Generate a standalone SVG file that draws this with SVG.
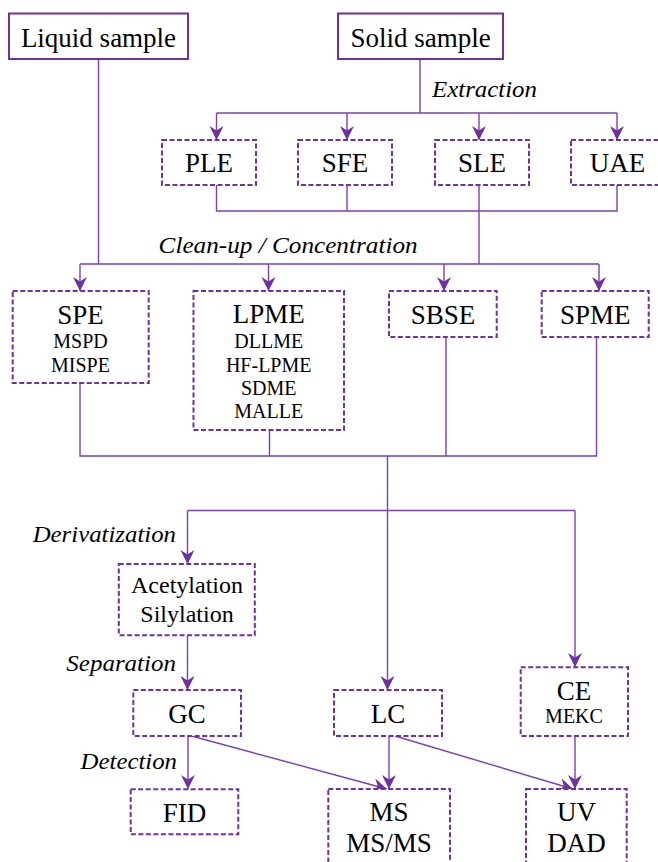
<svg xmlns="http://www.w3.org/2000/svg" width="658" height="862" viewBox="0 0 658 862">
<style>
.solid{fill:#fff;stroke:#7030A0;stroke-width:2}
.dash{fill:#fff;stroke:#7030A0;stroke-width:2;stroke-dasharray:5 2.5}
.t{font-family:"Liberation Serif","Times New Roman",serif;font-size:27px;fill:#000;text-anchor:middle}
.m{font-family:"Liberation Serif","Times New Roman",serif;font-size:24px;fill:#000;text-anchor:middle}
.s{font-family:"Liberation Serif","Times New Roman",serif;font-size:20px;fill:#000;text-anchor:middle}
.i{font-family:"Liberation Serif","Times New Roman",serif;font-size:23px;font-style:italic;fill:#000}
.c{fill:none;stroke:#7B3FB0;stroke-width:1.4}
</style>
<defs>
<marker id="ah" markerUnits="userSpaceOnUse" markerWidth="16" markerHeight="16" viewBox="-15 -8 16 16" refX="0" refY="0" orient="auto">
<path d="M0,0 L-14,-7 L-9.5,0 L-14,7 Z" fill="#7030A0"/>
</marker>
</defs>
<rect width="658" height="862" fill="#fff"/>
<g id="connectors">
<path class="c" d="M98.5,59 V264"/>
<path class="c" d="M420,59 V113"/>
<path class="c" d="M216.5,113 H617"/>
<path class="c" d="M216.5,113 V140" marker-end="url(#ah)"/>
<path class="c" d="M347,113 V140" marker-end="url(#ah)"/>
<path class="c" d="M479,113 V140" marker-end="url(#ah)"/>
<path class="c" d="M617,113 V140" marker-end="url(#ah)"/>
<path class="c" d="M216.5,185 V211 H617 V185"/>
<path class="c" d="M347,185 V211"/>
<path class="c" d="M479,185 V264"/>
<path class="c" d="M80,264 H599"/>
<path class="c" d="M80,264 V291" marker-end="url(#ah)"/>
<path class="c" d="M268.5,264 V291" marker-end="url(#ah)"/>
<path class="c" d="M444,264 V291" marker-end="url(#ah)"/>
<path class="c" d="M599,264 V291" marker-end="url(#ah)"/>
<path class="c" d="M80,383 V456 H596.5 V337"/>
<path class="c" d="M269.5,430 V456"/>
<path class="c" d="M446,337 V456"/>
<path class="c" d="M387.5,456 V690" marker-end="url(#ah)"/>
<path class="c" d="M187.5,510.5 H575"/>
<path class="c" d="M187.5,510.5 V564" marker-end="url(#ah)"/>
<path class="c" d="M575,510.5 V667" marker-end="url(#ah)"/>
<path class="c" d="M187.5,635 V690" marker-end="url(#ah)"/>
<path class="c" d="M188,736 V789" marker-end="url(#ah)"/>
<path class="c" d="M191.5,736 L387,789" marker-end="url(#ah)"/>
<path class="c" d="M389,736 V789" marker-end="url(#ah)"/>
<path class="c" d="M395,736 L573,789" marker-end="url(#ah)"/>
<path class="c" d="M575,736 V789" marker-end="url(#ah)"/>
</g>
<g id="labels">
<text class="i" x="432" y="97" textLength="105" lengthAdjust="spacingAndGlyphs">Extraction</text>
<text class="i" x="158.6" y="253" textLength="259" lengthAdjust="spacingAndGlyphs">Clean-up / Concentration</text>
<text class="i" x="32.7" y="541.7" textLength="143.3" lengthAdjust="spacingAndGlyphs">Derivatization</text>
<text class="i" x="66.3" y="670.7" textLength="109.7" lengthAdjust="spacingAndGlyphs">Separation</text>
<text class="i" x="80.6" y="769" textLength="96.4" lengthAdjust="spacingAndGlyphs">Detection</text>
</g>
<g id="liquid-sample"><rect class="solid" x="9" y="13.5" width="179" height="45.5"/><text class="t" x="98.5" y="46.7">Liquid sample</text></g>
<g id="solid-sample"><rect class="solid" x="338" y="13.5" width="165" height="45.5"/><text class="t" x="420.5" y="46.7">Solid sample</text></g>
<g id="ple"><rect class="dash" x="162" y="140" width="94" height="45"/><text class="t" x="209" y="172.3">PLE</text></g>
<g id="sfe"><rect class="dash" x="298" y="140" width="94" height="45"/><text class="t" x="345" y="172.3">SFE</text></g>
<g id="sle"><rect class="dash" x="435" y="140" width="94" height="45"/><text class="t" x="482" y="172.3">SLE</text></g>
<g id="uae"><rect class="dash" x="571" y="140" width="93" height="45"/><text class="t" x="617.5" y="172.3">UAE</text></g>
<g id="spe"><rect class="dash" x="12.7" y="291" width="136" height="92"/><text class="t" x="80.5" y="324">SPE</text><text class="s" x="80.5" y="348">MSPD</text><text class="s" x="80.5" y="372">MISPE</text></g>
<g id="lpme"><rect class="dash" x="193.5" y="291" width="150.5" height="139"/><text class="t" x="268.7" y="323.3">LPME</text><text class="s" x="268.7" y="348.3">DLLME</text><text class="s" x="268.7" y="371.6">HF-LPME</text><text class="s" x="268.7" y="395">SDME</text><text class="s" x="268.7" y="418">MALLE</text></g>
<g id="sbse"><rect class="dash" x="389" y="291" width="107.7" height="46"/><text class="t" x="443" y="324">SBSE</text></g>
<g id="spme"><rect class="dash" x="541.7" y="291" width="107" height="46"/><text class="t" x="595.2" y="324">SPME</text></g>
<g id="derivatization"><rect class="dash" x="118.8" y="564" width="136" height="71.3"/><text class="m" x="187" y="593.3">Acetylation</text><text class="m" x="187" y="622.3">Silylation</text></g>
<g id="gc"><rect class="dash" x="133.3" y="690" width="107.7" height="46"/><text class="t" x="187" y="722.7">GC</text></g>
<g id="lc"><rect class="dash" x="334" y="690" width="108" height="46"/><text class="t" x="388" y="722.7">LC</text></g>
<g id="ce"><rect class="dash" x="520.7" y="667.3" width="107.3" height="68.7"/><text class="t" x="574" y="700">CE</text><text class="s" x="574" y="723.3">MEKC</text></g>
<g id="fid"><rect class="dash" x="130.7" y="789.3" width="107.6" height="45"/><text class="t" x="184.5" y="821.7">FID</text></g>
<g id="ms"><rect class="dash" x="328.3" y="789" width="121.7" height="80"/><text class="t" x="389" y="821">MS</text><text class="t" x="389" y="851.7">MS/MS</text></g>
<g id="uv"><rect class="dash" x="526" y="789" width="100.7" height="80"/><text class="t" x="576.5" y="821">UV</text><text class="t" x="576.5" y="851.7">DAD</text></g>
</svg>
